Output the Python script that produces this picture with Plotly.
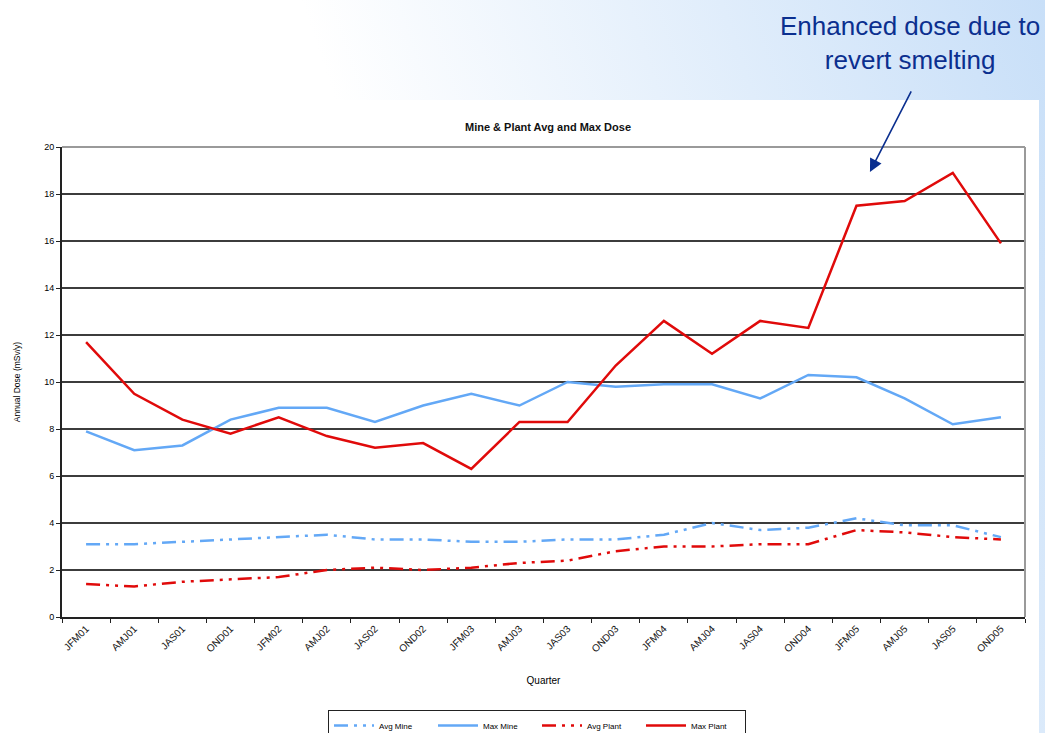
import base64
import plotly.graph_objects as go

quarters = ["JFM01", "AMJ01", "JAS01", "OND01", "JFM02", "AMJ02", "JAS02", "OND02",
            "JFM03", "AMJ03", "JAS03", "OND03", "JFM04", "AMJ04", "JAS04", "OND04",
            "JFM05", "AMJ05", "JAS05", "OND05"]
avg_mine = [3.1, 3.1, 3.2, 3.3, 3.4, 3.5, 3.3, 3.3, 3.2, 3.2,
            3.3, 3.3, 3.5, 4.0, 3.7, 3.8, 4.2, 3.9, 3.9, 3.4]
max_mine = [7.9, 7.1, 7.3, 8.4, 8.9, 8.9, 8.3, 9.0, 9.5, 9.0,
            10.0, 9.8, 9.9, 9.9, 9.3, 10.3, 10.2, 9.3, 8.2, 8.5]
avg_plant = [1.4, 1.3, 1.5, 1.6, 1.7, 2.0, 2.1, 2.0, 2.1, 2.3,
             2.4, 2.8, 3.0, 3.0, 3.1, 3.1, 3.7, 3.6, 3.4, 3.3]
max_plant = [11.7, 9.5, 8.4, 7.8, 8.5, 7.7, 7.2, 7.4, 6.3, 8.3,
             8.3, 10.7, 12.6, 11.2, 12.6, 12.3, 17.5, 17.7, 18.9, 15.9]
y_ticks = [0, 2, 4, 6, 8, 10, 12, 14, 16, 18, 20]

W, H = 1045, 733
L, R, T, B = 62, 20, 147, 116
PW, PH = W - L - R, H - T - B

BLUE = "#63a8f6"
RED = "#e00a0a"
DASHDOT = "14px,6px,3px,6px,3px,6px"
FONT = "Liberation Sans, Arial, sans-serif"
NAVY = "#0b2f8f"


def px_x(x):
    return (x - L) / PW


def px_y(y):
    return (H - B - y) / PH


fig = go.Figure()
fig.add_trace(go.Scatter(x=quarters, y=avg_mine, name="Avg Mine", mode="lines",
                         line=dict(color=BLUE, width=2.5, dash=DASHDOT)))
fig.add_trace(go.Scatter(x=quarters, y=max_mine, name="Max Mine", mode="lines",
                         line=dict(color=BLUE, width=2.5)))
fig.add_trace(go.Scatter(x=quarters, y=avg_plant, name="Avg Plant", mode="lines",
                         line=dict(color=RED, width=2.5, dash=DASHDOT)))
fig.add_trace(go.Scatter(x=quarters, y=max_plant, name="Max Plant", mode="lines",
                         line=dict(color=RED, width=2.5)))

svg = f'''<svg xmlns="http://www.w3.org/2000/svg" width="{W}" height="{H}" viewBox="0 0 {W} {H}" preserveAspectRatio="none">
<defs><linearGradient id="g" gradientUnits="userSpaceOnUse" x1="1045" y1="0" x2="380" y2="230">
<stop offset="0" stop-color="#c8dff8"/><stop offset="1" stop-color="#ffffff"/></linearGradient></defs>
<rect x="0" y="0" width="{W}" height="{H}" fill="url(#g)"/>
<rect x="0" y="100" width="1039" height="{H-100}" fill="#ffffff"/>
</svg>'''
src = "data:image/svg+xml;base64," + base64.b64encode(svg.encode()).decode()

fig.update_layout(
    width=W, height=H,
    margin=dict(l=L, r=R, t=T, b=B, autoexpand=False),
    paper_bgcolor="white", plot_bgcolor="white",
    font=dict(family=FONT, color="black", size=9),
    images=[dict(source=src, xref="paper", yref="paper",
                 x=px_x(0), y=px_y(0), sizex=W / PW, sizey=H / PH,
                 xanchor="left", yanchor="top", sizing="stretch", layer="below")],
    title=dict(text="<b>Mine &amp; Plant Avg and Max Dose</b>", x=548 / W, xref="container",
               y=1 - 127 / H, yanchor="middle", xanchor="center",
               font=dict(size=11, family=FONT, color="#111")),
    xaxis=dict(type="category", range=[-0.5, 19.5], showgrid=False,
               showline=True, linecolor="#222", linewidth=2,
               ticks="outside", tickson="boundaries", ticklen=4, tickcolor="#222",
               tickangle=-45, tickfont=dict(size=10, color="#111"),
               title=dict(text="Quarter", font=dict(size=10), standoff=23)),
    yaxis=dict(range=[0, 20], tickvals=y_ticks, showgrid=True,
               gridcolor="#3c3c3c", gridwidth=2,
               showline=True, linecolor="#222", linewidth=2,
               ticks="outside", ticklen=4, tickcolor="#222",
               tickfont=dict(size=9), zeroline=False,
               title=dict(text="Annual Dose (mSv/y)", font=dict(size=8.5), standoff=22)),
    legend=dict(orientation="h", x=px_x(328), y=px_y(710),
                xanchor="left", yanchor="top",
                bgcolor="white", bordercolor="#222", borderwidth=1,
                font=dict(size=8), entrywidth=49, itemwidth=40),
    showlegend=True,
)

# plot-area border (top/right) in grey
fig.add_shape(type="line", xref="paper", yref="paper", x0=0, x1=1, y0=1, y1=1,
              line=dict(color="#9a9a9a", width=2), layer="above")
fig.add_shape(type="line", xref="paper", yref="paper", x0=1, x1=1, y0=0, y1=1,
              line=dict(color="#9a9a9a", width=2), layer="above")

fig.add_annotation(xref="paper", yref="paper", x=px_x(910), y=px_y(43),
                   text="Enhanced dose due to<br>revert smelting", showarrow=False,
                   font=dict(size=26, color=NAVY,
                             family="Liberation Sans Narrow, Arial Narrow, Liberation Sans, sans-serif"),
                   yanchor="middle", xanchor="center")

fig.add_annotation(x=16.28, y=18.94, xref="x", yref="y", ax=42, ay=-82,
                   text="", showarrow=True, arrowhead=2, arrowsize=1.6,
                   arrowwidth=1.6, arrowcolor=NAVY)

fig.write_html("out.html")
